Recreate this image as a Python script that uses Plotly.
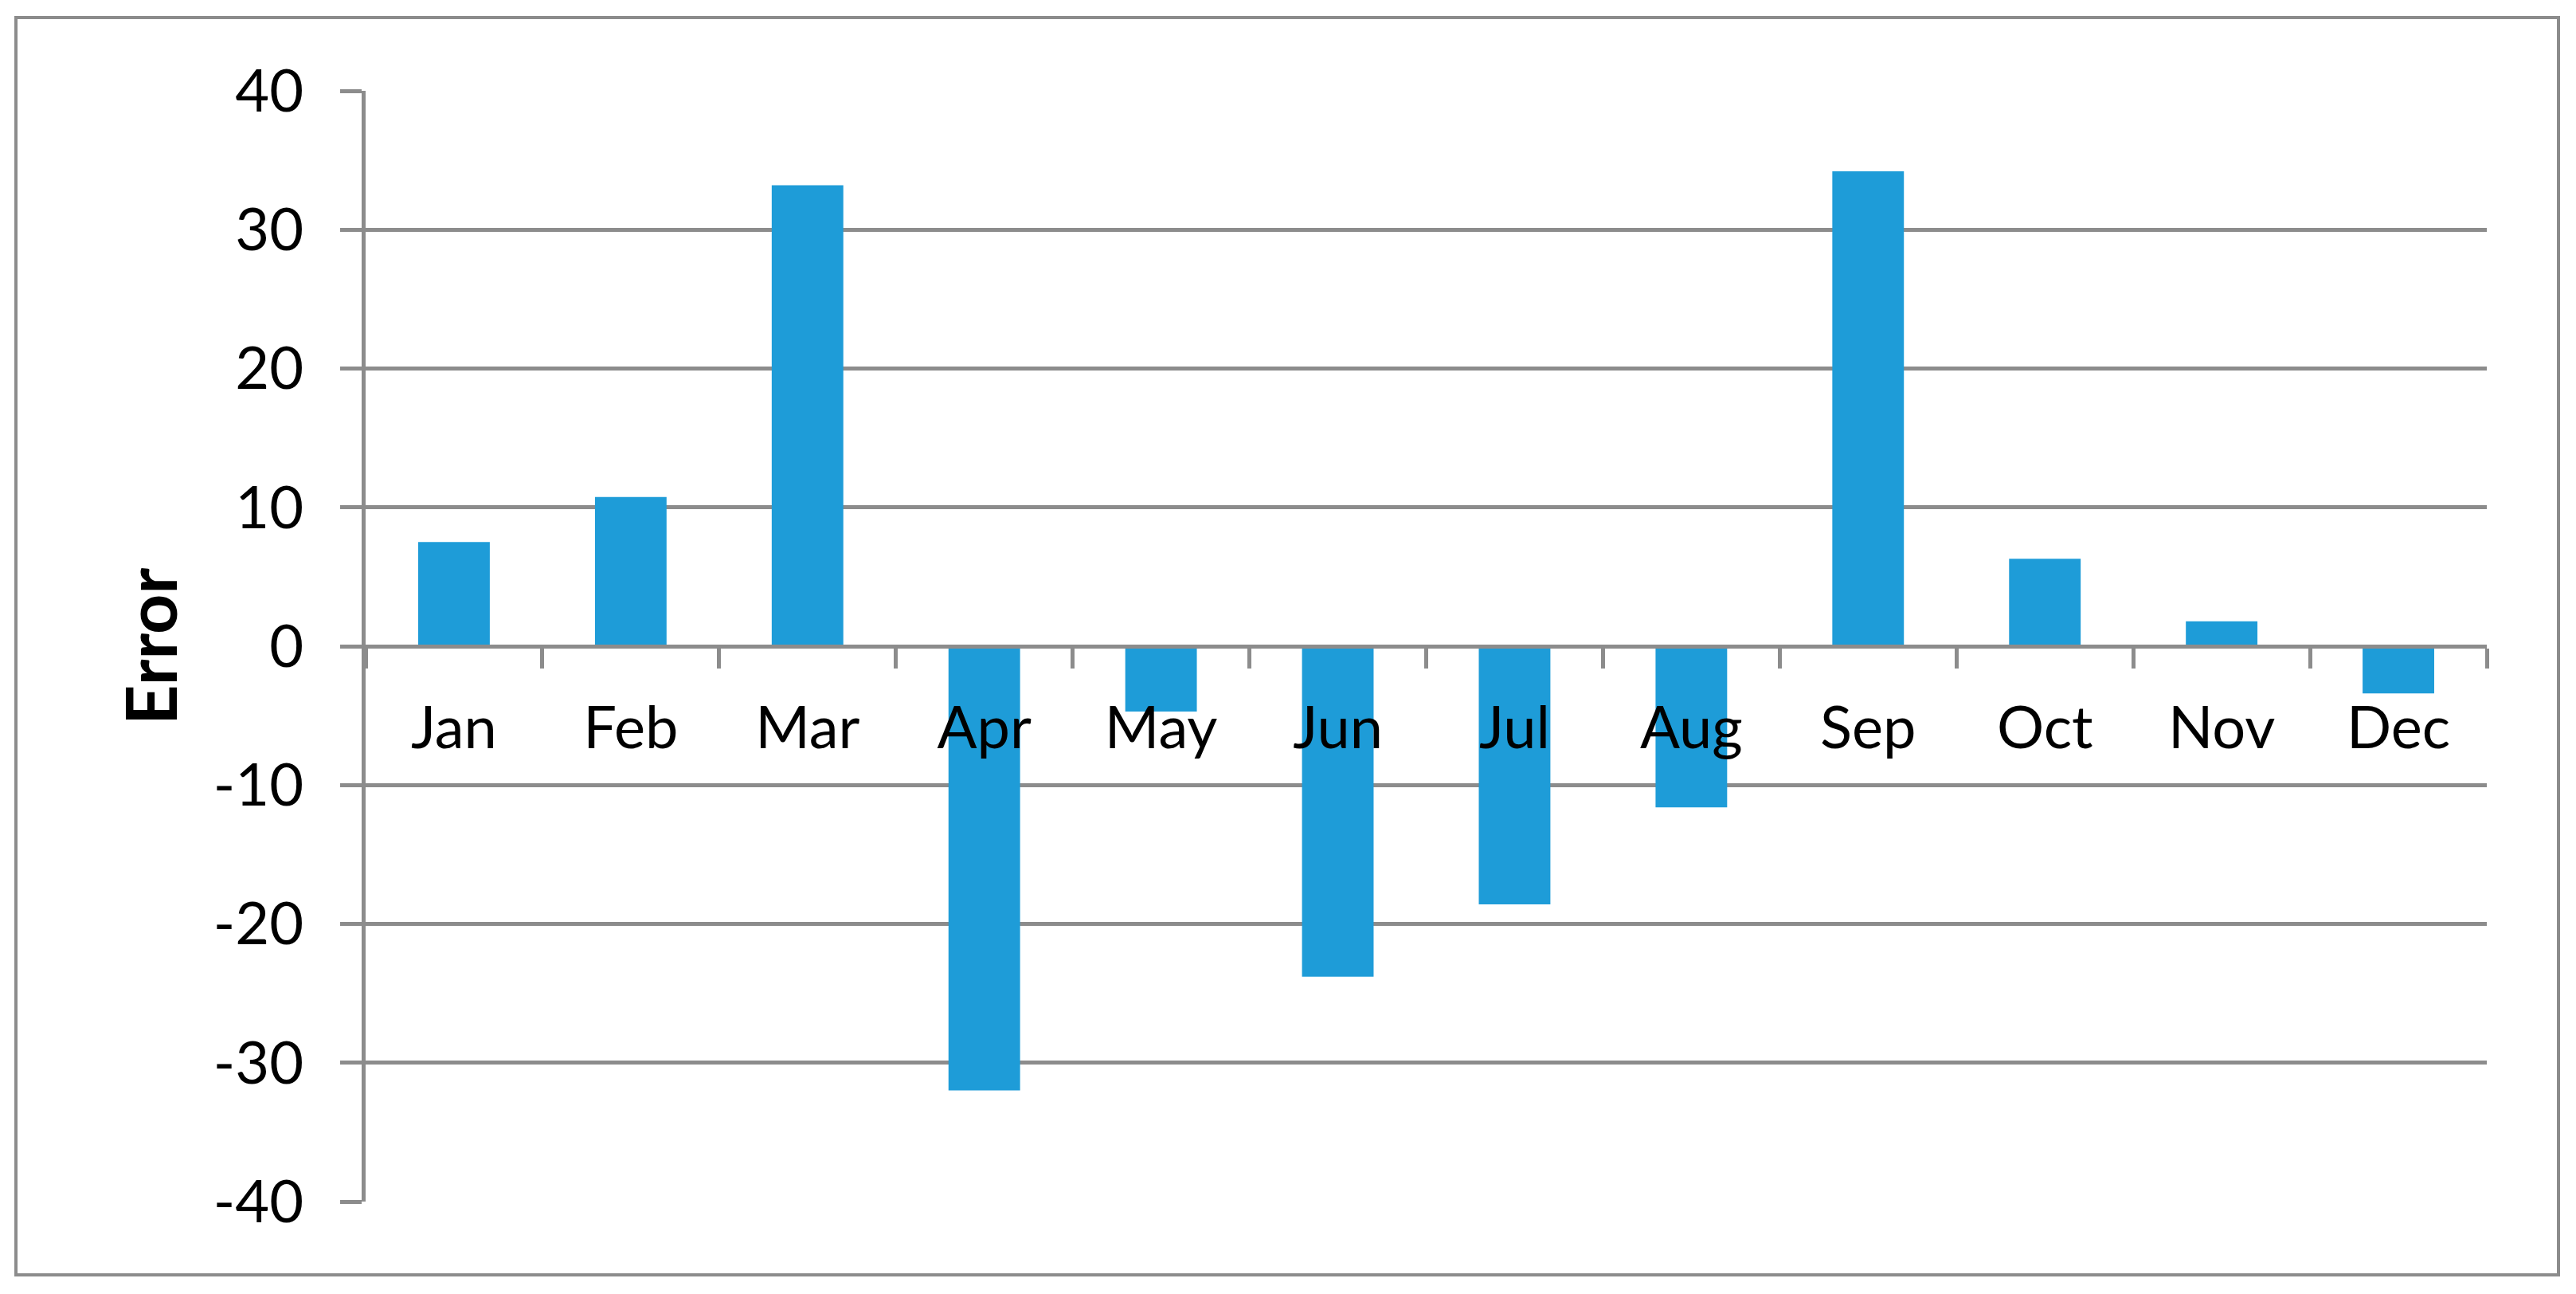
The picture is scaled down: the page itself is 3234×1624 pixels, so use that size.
import plotly.graph_objects as go

months = ["Jan", "Feb", "Mar", "Apr", "May", "Jun", "Jul", "Aug", "Sep", "Oct", "Nov", "Dec"]
errors = [7.5, 10.75, 33.2, -32.0, -4.7, -23.8, -18.6, -11.6, 34.2, 6.3, 1.8, -3.4]
y_ticks = [-40, -30, -20, -10, 0, 10, 20, 30, 40]
y_title = "Error"

OFF = 8  # browser body margin
W, H = 3234 - 2 * OFF, 1624 - 2 * OFF
L, R, T, B = 459 - OFF, 3122 - OFF, 114 - OFF, 1508 - OFF
pw, ph = R - L, B - T

GRAY = "#8c8c8c"
BLUE = "#1e9cd8"
FONT = "Lato, 'Open Sans', sans-serif"

fig = go.Figure(go.Bar(x=months, y=errors, marker=dict(color=BLUE, line=dict(width=0)), width=0.405))

fig.update_layout(
    width=W, height=H,
    margin=dict(l=L, r=W - R, t=T, b=H - B, pad=0),
    paper_bgcolor="white", plot_bgcolor="white",
    showlegend=False,
    font=dict(family=FONT, color="black", size=74),
)

fig.update_yaxes(
    range=[-40, 40], tickvals=y_ticks, ticktext=[str(v) for v in y_ticks],
    showgrid=True, gridcolor=GRAY, gridwidth=5,
    showline=True, linecolor=GRAY, linewidth=5,
    ticks="outside", ticklen=27, tickwidth=5, tickcolor=GRAY,
    zeroline=False, ticklabelstandoff=31,
    tickfont=dict(family=FONT, size=74, color="black"),
)
fig.update_xaxes(
    range=[-0.5, 11.5], anchor="free", position=0.5,
    showline=True, linecolor=GRAY, linewidth=5,
    ticks="outside", tickson="boundaries", ticklen=25, tickwidth=4.5, tickcolor=GRAY,
    showgrid=False, zeroline=False, ticklabelstandoff=36,
    tickfont=dict(family=FONT, size=74, color="black"),
)

# y-axis title
fig.add_annotation(
    text="<b>" + y_title + "</b>", textangle=-90,
    xref="paper", yref="paper", x=(188 - OFF - L) / pw, y=0.5,
    xanchor="center", yanchor="middle", showarrow=False,
    font=dict(family=FONT, size=88, color="black"),
)

# outer chart border
fig.add_shape(
    type="rect", xref="paper", yref="paper",
    x0=(20 - OFF - L) / pw, x1=(3212 - OFF - L) / pw,
    y0=(B - (1600 - OFF)) / ph, y1=(B - (22 - OFF)) / ph,
    line=dict(color=GRAY, width=4), fillcolor="rgba(0,0,0,0)", layer="below",
)

fig.write_html("out.html")
